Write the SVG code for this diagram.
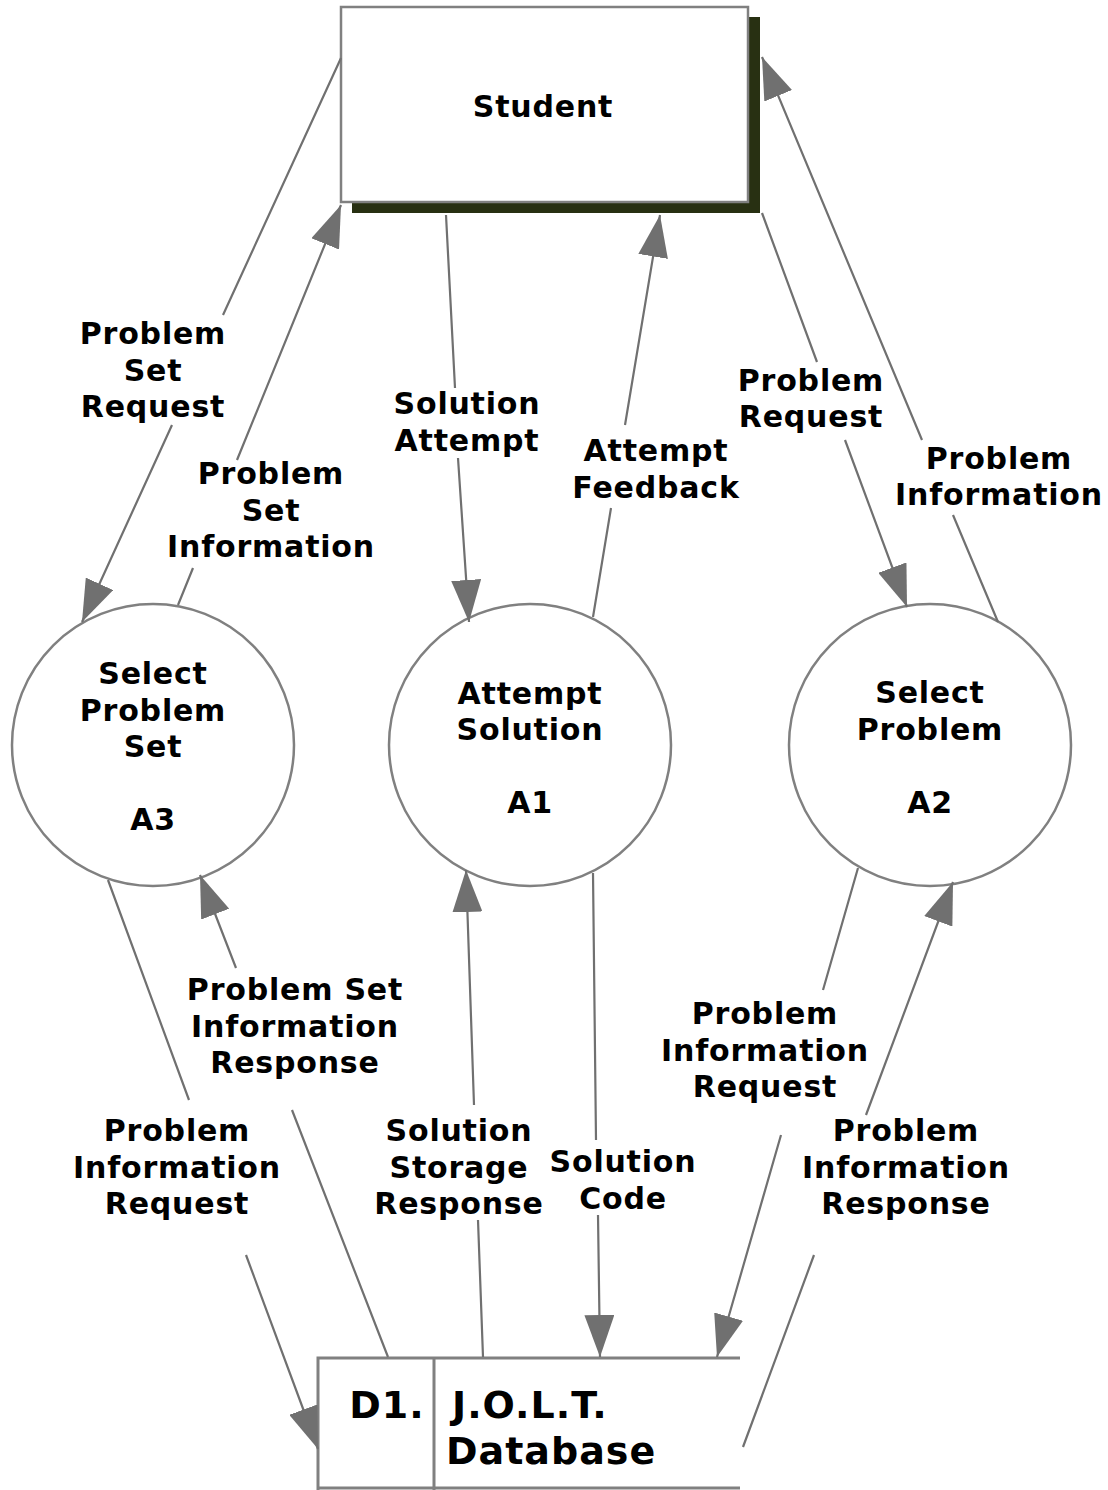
<svg xmlns="http://www.w3.org/2000/svg" width="1108" height="1490" viewBox="0 0 1108 1490">
<style>
text{font-family:"DejaVu Sans","Verdana",sans-serif;font-weight:bold;font-size:30px;fill:#000;text-anchor:middle;letter-spacing:0.8px}
.node{fill:#fff;stroke:#808080;stroke-width:2.5}
.flow{fill:none;stroke:#707070;stroke-width:2.2}
.db{fill:none;stroke:#808080;stroke-width:3}
.big{font-size:38px;letter-spacing:1px}
</style>
<defs>
<marker id="ah" markerUnits="userSpaceOnUse" viewBox="0 0 42 30" refX="42" refY="15" markerWidth="42" markerHeight="30" orient="auto">
<path d="M0,0 L42,15 L0,30 Z" fill="#707070"/>
</marker>
</defs>
<rect width="1108" height="1490" fill="#fff"/>

<g id="student">
<rect x="352" y="17" width="408" height="196" fill="#283012"/>
<rect class="node" x="341" y="7" width="407" height="195"/>
<text x="543" y="117">Student</text>
</g>

<g id="a3">
<circle class="node" cx="153" cy="745" r="141"/>
<text x="153" y="684">Select</text>
<text x="153" y="721">Problem</text>
<text x="153" y="757">Set</text>
<text x="153" y="830">A3</text>
</g>

<g id="a1">
<circle class="node" cx="530" cy="745" r="141"/>
<text x="530" y="704">Attempt</text>
<text x="530" y="740">Solution</text>
<text x="530" y="813">A1</text>
</g>

<g id="a2">
<circle class="node" cx="930" cy="745" r="141"/>
<text x="930" y="703">Select</text>
<text x="930" y="740">Problem</text>
<text x="930" y="813">A2</text>
</g>

<g id="d1">
<rect x="318" y="1358" width="422" height="132" fill="#fff"/>
<path class="db" d="M740,1358 L318,1358 L318,1490 M434,1358 L434,1490 M318,1488 L740,1488"/>
<text class="big" x="387" y="1418">D1.</text>
<text class="big" x="452" y="1418" style="text-anchor:start">J.O.L.T.</text>
<text class="big" x="446" y="1464" style="text-anchor:start">Database</text>
</g>

<g id="connectors">
<path class="flow" marker-end="url(#ah)" d="M341,58 L223,315 M172,425 L82,622"/>
<path class="flow" marker-end="url(#ah)" d="M178,605 L193,568 M237,460 L341,205"/>
<path class="flow" marker-end="url(#ah)" d="M446,215 L455,388 M458,458 L469,622"/>
<path class="flow" marker-end="url(#ah)" d="M593,617 L611,508 M625,425 L660,215"/>
<path class="flow" marker-end="url(#ah)" d="M762,213 L817,362 M845,440 L907,607"/>
<path class="flow" marker-end="url(#ah)" d="M998,622 L953,515 M922,440 L762,57"/>
<path class="flow" marker-end="url(#ah)" d="M108,880 L189,1100 M246,1255 L318,1449"/>
<path class="flow" marker-end="url(#ah)" d="M388,1357 L292,1110 M236,968 L200,875"/>
<path class="flow" marker-end="url(#ah)" d="M483,1357 L478,1220 M474,1105 L466,870"/>
<path class="flow" marker-end="url(#ah)" d="M593,873 L596,1140 M598,1215 L600,1357"/>
<path class="flow" marker-end="url(#ah)" d="M858,868 L823,990 M781,1135 L717,1357"/>
<path class="flow" marker-end="url(#ah)" d="M743,1447 L814,1255 M866,1115 L953,882"/>
</g>

<g id="labels">
<text x="153" y="344">Problem</text>
<text x="153" y="381">Set</text>
<text x="153" y="417">Request</text>
<text x="271" y="484">Problem</text>
<text x="271" y="521">Set</text>
<text x="271" y="557">Information</text>
<text x="467" y="414">Solution</text>
<text x="467" y="451">Attempt</text>
<text x="656" y="461">Attempt</text>
<text x="656" y="498">Feedback</text>
<text x="811" y="391">Problem</text>
<text x="811" y="427">Request</text>
<text x="999" y="469">Problem</text>
<text x="999" y="505">Information</text>
<text x="295" y="1000">Problem Set</text>
<text x="295" y="1037">Information</text>
<text x="295" y="1073">Response</text>
<text x="177" y="1141">Problem</text>
<text x="177" y="1178">Information</text>
<text x="177" y="1214">Request</text>
<text x="459" y="1141">Solution</text>
<text x="459" y="1178">Storage</text>
<text x="459" y="1214">Response</text>
<text x="623" y="1172">Solution</text>
<text x="623" y="1209">Code</text>
<text x="765" y="1024">Problem</text>
<text x="765" y="1061">Information</text>
<text x="765" y="1097">Request</text>
<text x="906" y="1141">Problem</text>
<text x="906" y="1178">Information</text>
<text x="906" y="1214">Response</text>
</g>
</svg>
